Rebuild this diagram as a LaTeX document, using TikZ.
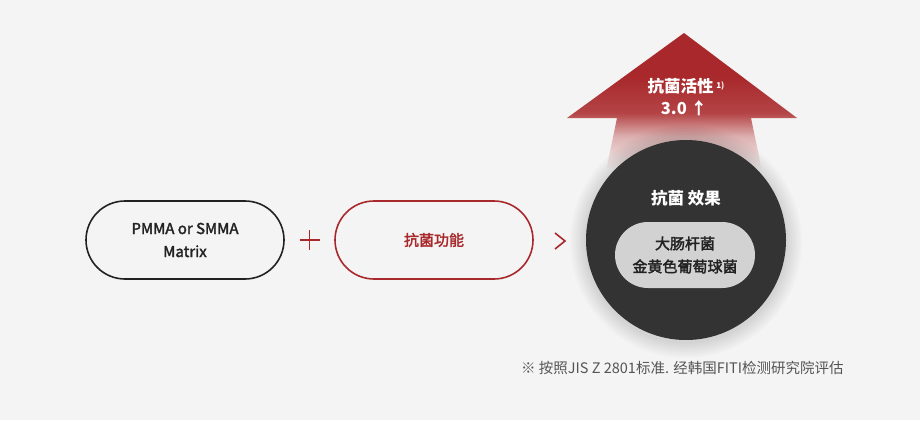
\documentclass[tikz,border=0pt]{standalone}
\usepackage{fontspec}
\setmainfont{Noto Sans CJK SC}
\newfontfamily\medfont[FakeBold=2.2]{Noto Sans CJK SC}
\usetikzlibrary{calc}
\definecolor{bgc}{HTML}{F4F4F4}
\definecolor{redc}{HTML}{A8282B}
\definecolor{midred}{HTML}{B44446}
\definecolor{pinkc}{HTML}{DDB0B0}
\definecolor{darkc}{HTML}{333333}
\definecolor{pillc}{HTML}{D2D2D2}
\definecolor{inkc}{HTML}{222222}
\definecolor{notec}{HTML}{555555}
\pgfdeclareverticalshading{arrowshade}{100bp}{color(0bp)=(bgc); color(34bp)=(bgc); color(44bp)=(pinkc); color(51bp)=(midred); color(62bp)=(redc); color(100bp)=(redc)}
\tikzset{
  pillbox/.style={rectangle, rounded corners=39pt, minimum width=198pt, minimum height=78pt, line width=1.6pt, align=center, inner sep=0pt},
  txt/.style={font=\medfont\fontsize{15}{23}\selectfont, align=center},
  boldtxt/.style={font=\bfseries\fontsize{16.5}{22}\selectfont, align=center, text=white},
  sym/.style={draw=redc, line width=1.6pt}
}
\begin{document}
\begin{tikzpicture}[x=1pt,y=-1pt]
\useasboundingbox[fill=bgc] (0,0) rectangle (920,420);
% arrow
\shade[shading=arrowshade] (684,33) -- (797,118) -- (751,118) -- (768,200) -- (600,200) -- (617,118) -- (567,118) -- cycle;
% shadow
\foreach \k in {1,...,8}{
  \fill[black, opacity=0.014] (686,242) circle (100+2*\k);
}
\node[circle, fill=darkc, minimum size=200pt, inner sep=0pt] (eff) at (686,240) {};
\node[boldtxt] (efft) at (686,198) {抗菌 效果};
\node[rectangle, rounded corners=33pt, fill=pillc, minimum width=140pt, minimum height=66pt, inner sep=0pt, txt, text=inkc] (bact) at (685,255) {大肠杆菌\\金黄色葡萄球菌};
% arrow labels
\node[boldtxt] (act) at (686,86) {抗菌活性\,\raisebox{4pt}{\fontsize{8}{8}\selectfont 1)}};
\node[boldtxt] (val) at (684,108) {3.0 ↑};
% boxes
\node[pillbox, draw=inkc, txt, text=inkc] (matrix) at (185,240) {PMMA or SMMA\\Matrix};
\node[pillbox, draw=redc, txt, text=redc] (func) at (434,240) {抗菌功能};
% plus
\coordinate (plus) at ($(matrix.east)!0.5!(func.west)$);
\draw[sym] (plus) ++(-10,0) -- ++(20,0);
\draw[sym] (plus) ++(0,-10) -- ++(0,20);
% chevron
\coordinate (chev) at (560,241);
\draw[sym] (chev) ++(-5,-8) -- ++(10,8) -- ++(-10,8);
% footnote
\node[anchor=west, text=notec, font=\fontsize{14.5}{17}\selectfont, inner sep=0pt] (note) at (521,368) {※ 按照JIS Z 2801标准. 经韩国FITI检测研究院评估};
\end{tikzpicture}
\end{document}
